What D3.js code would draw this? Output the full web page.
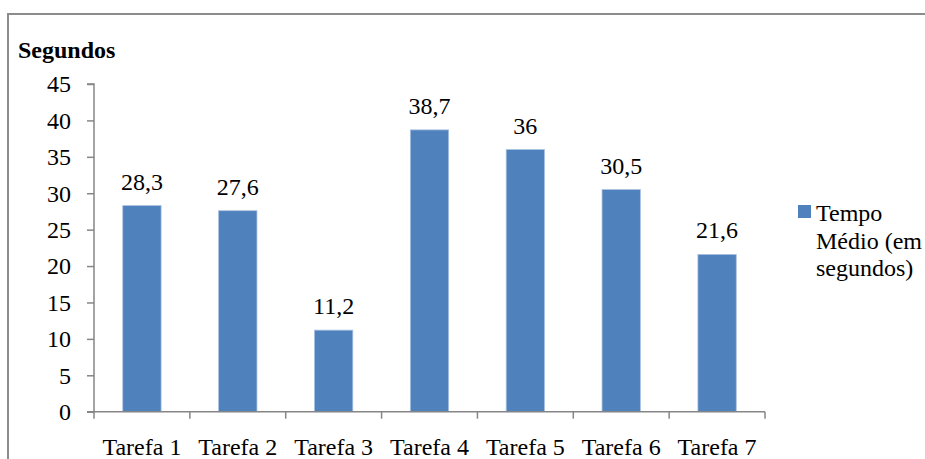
<!DOCTYPE html>
<html><head><meta charset="utf-8">
<script src="https://cdn.jsdelivr.net/npm/d3@7/dist/d3.min.js"></script>
</head><body style="margin:0">
<svg id="chart" width="925" height="459"></svg>
<script>
const categories = ["Tarefa 1", "Tarefa 2", "Tarefa 3", "Tarefa 4", "Tarefa 5", "Tarefa 6", "Tarefa 7"];
const values = [28.3, 27.6, 11.2, 38.7, 36, 30.5, 21.6];
const valueLabels = ["28,3", "27,6", "11,2", "38,7", "36", "30,5", "21,6"];
const yTicks = [0, 5, 10, 15, 20, 25, 30, 35, 40, 45];
const seriesName = ["Tempo", "Médio (em", "segundos)"];
const axisTitle = "Segundos";
const fontNames = ["Times", "Tinos", "Liberation Serif", "Times New Roman"];

(function () {
const svg = d3.select("#chart");
const FONT = fontNames.map(f => `'${f}'`).join(", ");
svg.style("font-family", FONT);

// outer frame
svg.append("rect")
  .attr("x", 8).attr("y", 14)
  .attr("width", 1000).attr("height", 600)
  .attr("fill", "none").attr("stroke", "#8c8c8c").attr("stroke-width", 2);

const pLeft = 94, pRight = 765, pTop = 84, pBottom = 411.7;

const x = d3.scaleBand().domain(categories).range([pLeft, pRight]).paddingInner(0.6).paddingOuter(0.3);
const y = d3.scaleLinear().domain([0, 45]).range([pBottom, pTop]);

// bars
svg.append("g").selectAll("rect").data(values).join("rect")
  .attr("x", (d, i) => x(categories[i]))
  .attr("y", d => y(d))
  .attr("width", x.bandwidth())
  .attr("height", d => y(0) - y(d))
  .attr("fill", "#4f81bd")
  .attr("stroke", "#a9c1e0")
  .attr("stroke-width", 0.8);

// value labels
svg.selectAll("text.val").data(values).join("text")
  .attr("class", "val")
  .attr("x", (d, i) => x(categories[i]) + x.bandwidth() / 2)
  .attr("y", d => y(d) - 16)
  .attr("text-anchor", "middle")
  .attr("font-size", 24)
  .style("font-family", () => FONT)
  .text((d, i) => valueLabels[i]);

// y axis
const yAxis = d3.axisLeft(y).tickValues(yTicks).tickSize(7).tickPadding(16).tickFormat(d3.format("d"));
const gy = svg.append("g").attr("transform", `translate(${pLeft},0)`).call(yAxis);
gy.attr("font-family", null).attr("font-size", null);
gy.select(".domain").attr("stroke", "#868686").attr("stroke-width", 1.5).attr("d", `M-7,${pTop}H0V${pBottom}H-7`);
gy.selectAll(".tick line").attr("stroke", "#868686").attr("stroke-width", 1.5);
gy.selectAll(".tick text").attr("font-size", 24).style("font-family", () => FONT).attr("dy", "0.33em");

// x axis
const bandStep = (pRight - pLeft) / categories.length;
const xTickPos = d3.range(categories.length + 1).map(i => pLeft + i * bandStep);
svg.append("line").attr("x1", pLeft).attr("x2", pRight).attr("y1", pBottom).attr("y2", pBottom)
  .attr("stroke", "#868686").attr("stroke-width", 1.5);
svg.selectAll("line.t").data(xTickPos).join("line").attr("class", "t")
  .attr("x1", d => d).attr("x2", d => d).attr("y1", pBottom).attr("y2", pBottom + 7)
  .attr("stroke", "#868686").attr("stroke-width", 1.5);
svg.selectAll("text.cat").data(categories).join("text")
  .attr("class", "cat")
  .attr("x", d => x(d) + x.bandwidth() / 2)
  .attr("y", 455)
  .attr("text-anchor", "middle")
  .attr("font-size", 24)
  .style("font-family", () => FONT)
  .text(d => d);

// axis title
svg.append("text").attr("x", 18).attr("y", 58)
  .attr("font-size", 24).attr("font-weight", "bold")
  .style("font-family", () => FONT)
  .text(axisTitle);

// legend
svg.append("rect").attr("x", 798).attr("y", 205).attr("width", 13).attr("height", 13).attr("fill", "#4f81bd");
svg.selectAll("text.leg").data(seriesName).join("text")
  .attr("class", "leg")
  .attr("x", 816).attr("y", (d, i) => 221 + i * 27.5)
  .attr("font-size", 24)
  .style("font-family", () => FONT)
  .text(d => d);
})();
</script></body></html>
